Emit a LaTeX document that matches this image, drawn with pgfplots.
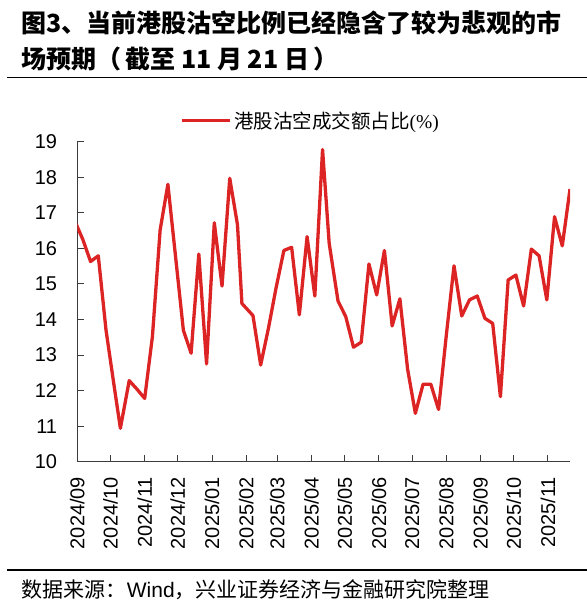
\documentclass[border=0pt]{standalone}
\usepackage{fontspec}
\setmainfont{Liberation Sans}
\newfontfamily\cjk{Noto Sans CJK SC}
\newfontfamily\serif{Liberation Serif}
\usepackage{pgfplots}
\usepackage{pgfplotstable}
\pgfplotsset{compat=1.18}
\definecolor{linered}{RGB}{221,36,36}
\definecolor{axisgray}{RGB}{60,60,60}

% days since 2024-09-01, short-sale share of turnover (%)
\pgfplotstableread{
day val
-2 16.75
5 16.25
12 15.63
19 15.79
26 13.70
33 12.20
39 10.94
47 12.28
54 12.04
61 11.78
68 13.52
75 16.52
82 17.80
89 15.75
96 13.70
103 13.05
110 15.84
117 12.75
124 16.72
131 14.94
138 17.97
145 16.66
149 14.45
159 14.11
166 12.72
173 13.75
180 14.90
187 15.94
194 16.03
201 14.13
208 16.33
215 14.66
222 18.78
228 16.14
236 14.52
243 14.08
250 13.22
257 13.36
264 15.56
271 14.69
278 15.94
285 13.82
292 14.58
299 12.60
306 11.36
313 12.18
320 12.18
327 11.47
334 13.55
341 15.51
348 14.10
355 14.55
362 14.66
369 14.03
376 13.89
383 11.83
390 15.11
397 15.25
404 14.38
411 15.98
418 15.79
425 14.55
432 16.89
439 16.07
446 17.67
}\shortdata

\begin{document}
\begin{tikzpicture}[x=1bp,y=1bp]
\path[use as bounding box] (0,0) rectangle (587,610);

% title
\node[anchor=west, inner sep=0pt, font=\cjk\bfseries\fontsize{25bp}{30bp}\selectfont] at (21,586.7) {图3、当前港股沽空比例已经隐含了较为悲观的市};
\node[anchor=west, inner sep=0pt, font=\cjk\bfseries\fontsize{25bp}{30bp}\selectfont] at (21,551) {场预期（\,截至 11 月 21 日\,）};
\draw[black, line width=1.1bp] (7,532.7) -- (587,532.7);

\begin{axis}[
  at={(77.3bp,148.3bp)}, anchor=south west,
  scale only axis, width=492.7bp, height=320bp,
  xmin=0, xmax=446, ymin=10, ymax=19,
  axis lines*=left,
  axis line style={axisgray, line width=1bp},
  tick style={axisgray, line width=1bp},
  tick align=inside, major tick length=7bp,
  xtick={0,30,61,91,122,153,181,212,242,273,303,334,365,395,426},
  xticklabels={2024/09,2024/10,2024/11,2024/12,2025/01,2025/02,2025/03,2025/04,2025/05,2025/06,2025/07,2025/08,2025/09,2025/10,2025/11},
  ytick={10,11,...,19},
  /pgf/number format/assume math mode=true,
  ticklabel style={font=\fontsize{20bp}{24bp}\selectfont, inner sep=0pt},
  xticklabel style={rotate=90, anchor=east},
  xticklabel shift=15bp,
  yticklabel style={anchor=east},
  yticklabel shift=20bp,
  legend style={at={(0.474,1.0656)}, anchor=center, draw=none, fill=none,
    inner sep=0pt, font=\fontsize{19.5bp}{23bp}\selectfont},
  legend image code/.code={\draw[linered, line width=3.3bp] (0bp,0bp) -- (48bp,0bp);},
]
\addplot[linered, line width=3.3bp, line join=round] table[x=day, y=val] {\shortdata};
\addlegendentry{{\cjk 港股沽空成交额占比}{\serif (\%)}}
\end{axis}

% source
\draw[black, line width=1.1bp] (7,40) -- (587,40);
\node[anchor=west, inner sep=0pt, font=\fontsize{21bp}{25bp}\selectfont] at (21.7,20) {{\cjk 数据来源：}Wind{\cjk ，兴业证券经济与金融研究院整理}};
\end{tikzpicture}
\end{document}
